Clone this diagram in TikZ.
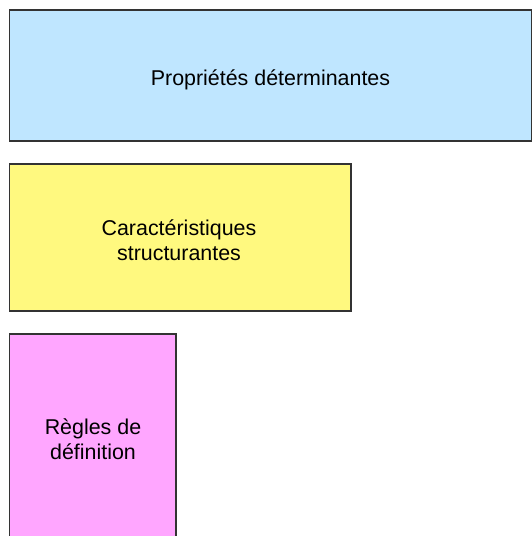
\documentclass[tikz,border=0pt]{standalone}
\usepackage{fontspec}
\setmainfont{Liberation Sans}
\definecolor{boxblue}{HTML}{BFE6FF}
\definecolor{boxyellow}{HTML}{FFF97F}
\definecolor{boxpink}{HTML}{FFA6FF}
\definecolor{edge}{HTML}{333333}
\begin{document}
\begin{tikzpicture}[x=1bp,y=1bp,
  box/.style={draw=edge, line width=1.2bp},
  lbl/.style={font=\fontsize{21.5}{25}\selectfont, align=center, text=black, inner sep=0pt}]
\useasboundingbox (0,0) rectangle (532,536);
\path[box, fill=boxblue] (9.5,526) rectangle (531.5,395);
\node[lbl] (blue) at (270.5,456) {Propriétés déterminantes};
\path[box, fill=boxyellow] (9.5,372) rectangle (351,225);
\node[lbl] (yellow) at (179,296) {Caractéristiques\\structurantes};
\path[box, fill=boxpink] (9.5,202) rectangle (176,-5);
\node[lbl] (pink) at (93,97) {Règles de\\définition};
\end{tikzpicture}
\end{document}
